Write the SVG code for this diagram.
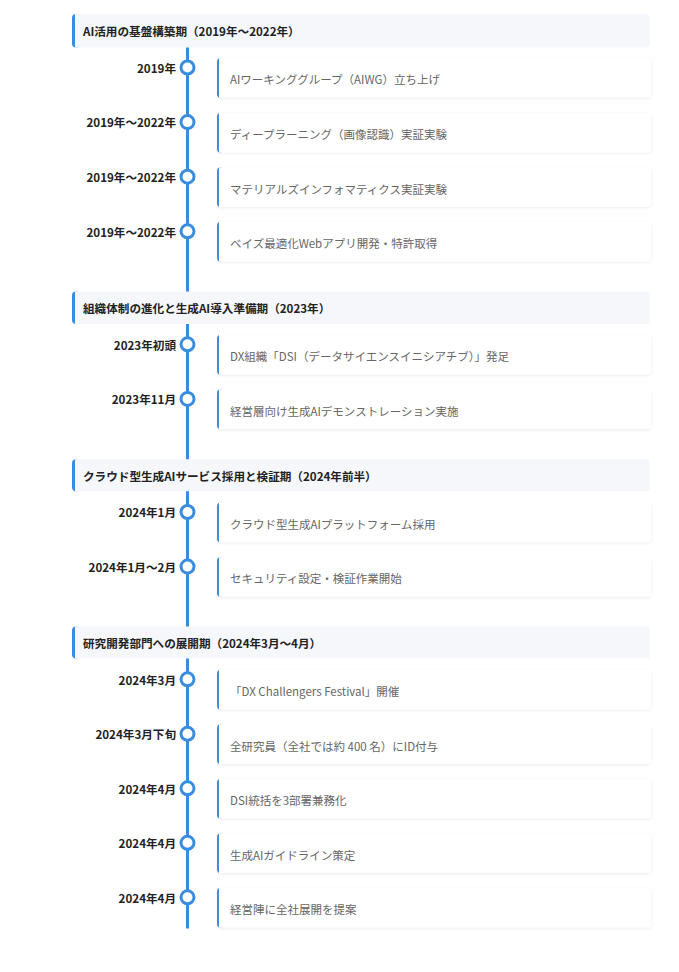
<svg xmlns="http://www.w3.org/2000/svg" width="679" height="972" viewBox="0 0 679 972">
<style>
  text { font-family: "Noto Sans CJK JP", "Noto Sans", sans-serif; }
  .hbg { fill: #f5f7fa; }
  .bar { fill: #3a8dde; }
  .htxt { font-size: 11.6px; font-weight: 700; fill: #222; dominant-baseline: central; }
  .date { font-size: 11.6px; font-weight: 700; fill: #222; text-anchor: end; dominant-baseline: central; }
  .card { fill: #ffffff; }
  .ctxt { font-size: 11.5px; fill: #666; dominant-baseline: central; }
  .dot { fill: #ffffff; stroke: #3a8dde; stroke-width: 3; }
  .line { stroke: #3a8dde; stroke-width: 3; fill: none; }
</style>
<defs>
  <filter id="sh" x="-5%" y="-30%" width="110%" height="170%">
    <feDropShadow dx="0" dy="1" stdDeviation="1.5" flood-color="#000" flood-opacity="0.08"/>
  </filter>
</defs>
<rect width="679" height="972" fill="#ffffff"/>

<g id="connectors">
  <line class="line" x1="187.5" y1="47" x2="187.5" y2="928.5"/>
</g>

<g id="header1">
  <rect class="bar" x="72" y="14" width="8" height="33.5" rx="4"/>
  <path class="hbg" d="M75,14 H646 a4,4 0 0 1 4,4 V43.5 a4,4 0 0 1 -4,4 H75 Z"/>
  <text class="htxt" x="83" y="30.8">AI活用の基盤構築期（2019年～2022年）</text>
</g>

<g id="e1">
  <text class="date" x="176" y="67.8">2019年</text>
  <circle class="dot" cx="187.5" cy="67.5" r="6.5"/>
  <g filter="url(#sh)">
    <rect class="bar" x="217" y="58.3" width="6" height="39.5" rx="4"/>
    <path class="card" d="M219,58.3 H647 a4,4 0 0 1 4,4 V93.8 a4,4 0 0 1 -4,4 H219 Z"/>
  </g>
  <text class="ctxt" x="230" y="79.3">AIワーキンググループ（AIWG）立ち上げ</text>
</g>

<g id="e2">
  <text class="date" x="176" y="122.4">2019年～2022年</text>
  <circle class="dot" cx="187.5" cy="122.1" r="6.5"/>
  <g filter="url(#sh)">
    <rect class="bar" x="217" y="112.9" width="6" height="39.5" rx="4"/>
    <path class="card" d="M219,112.9 H647 a4,4 0 0 1 4,4 V148.4 a4,4 0 0 1 -4,4 H219 Z"/>
  </g>
  <text class="ctxt" x="230" y="133.9">ディープラーニング（画像認識）実証実験</text>
</g>

<g id="e3">
  <text class="date" x="176" y="177">2019年～2022年</text>
  <circle class="dot" cx="187.5" cy="176.7" r="6.5"/>
  <g filter="url(#sh)">
    <rect class="bar" x="217" y="167.5" width="6" height="39.5" rx="4"/>
    <path class="card" d="M219,167.5 H647 a4,4 0 0 1 4,4 V203 a4,4 0 0 1 -4,4 H219 Z"/>
  </g>
  <text class="ctxt" x="230" y="188.5">マテリアルズインフォマティクス実証実験</text>
</g>

<g id="e4">
  <text class="date" x="176" y="231.6">2019年～2022年</text>
  <circle class="dot" cx="187.5" cy="231.3" r="6.5"/>
  <g filter="url(#sh)">
    <rect class="bar" x="217" y="222.1" width="6" height="39.5" rx="4"/>
    <path class="card" d="M219,222.1 H647 a4,4 0 0 1 4,4 V257.6 a4,4 0 0 1 -4,4 H219 Z"/>
  </g>
  <text class="ctxt" x="230" y="243.1">ベイズ最適化Webアプリ開発・特許取得</text>
</g>

<g id="header2">
  <rect class="bar" x="72" y="291.5" width="8" height="32.5" rx="4"/>
  <path class="hbg" d="M75,291.5 H646 a4,4 0 0 1 4,4 V320 a4,4 0 0 1 -4,4 H75 Z"/>
  <text class="htxt" x="83" y="307.8">組織体制の進化と生成AI導入準備期（2023年）</text>
</g>

<g id="e5">
  <text class="date" x="176" y="344.6">2023年初頭</text>
  <circle class="dot" cx="187.5" cy="344.3" r="6.5"/>
  <g filter="url(#sh)">
    <rect class="bar" x="217" y="335" width="6" height="39.5" rx="4"/>
    <path class="card" d="M219,335 H647 a4,4 0 0 1 4,4 V370.5 a4,4 0 0 1 -4,4 H219 Z"/>
  </g>
  <text class="ctxt" x="230" y="356">DX組織「DSI（データサイエンスイニシアチブ）」発足</text>
</g>

<g id="e6">
  <text class="date" x="176" y="399.2">2023年11月</text>
  <circle class="dot" cx="187.5" cy="398.9" r="6.5"/>
  <g filter="url(#sh)">
    <rect class="bar" x="217" y="389.6" width="6" height="39.5" rx="4"/>
    <path class="card" d="M219,389.6 H647 a4,4 0 0 1 4,4 V425.1 a4,4 0 0 1 -4,4 H219 Z"/>
  </g>
  <text class="ctxt" x="230" y="410.6">経営層向け生成AIデモンストレーション実施</text>
</g>

<g id="header3">
  <rect class="bar" x="72" y="459.3" width="8" height="32" rx="4"/>
  <path class="hbg" d="M75,459.3 H646 a4,4 0 0 1 4,4 V487.3 a4,4 0 0 1 -4,4 H75 Z"/>
  <text class="htxt" x="83" y="475.5">クラウド型生成AIサービス採用と検証期（2024年前半）</text>
</g>

<g id="e7">
  <text class="date" x="176" y="512.3">2024年1月</text>
  <circle class="dot" cx="187.5" cy="512" r="6.5"/>
  <g filter="url(#sh)">
    <rect class="bar" x="217" y="502.7" width="6" height="39.5" rx="4"/>
    <path class="card" d="M219,502.7 H647 a4,4 0 0 1 4,4 V538.2 a4,4 0 0 1 -4,4 H219 Z"/>
  </g>
  <text class="ctxt" x="230" y="523.7">クラウド型生成AIプラットフォーム採用</text>
</g>

<g id="e8">
  <text class="date" x="176" y="566.9">2024年1月～2月</text>
  <circle class="dot" cx="187.5" cy="566.6" r="6.5"/>
  <g filter="url(#sh)">
    <rect class="bar" x="217" y="557.3" width="6" height="39.5" rx="4"/>
    <path class="card" d="M219,557.3 H647 a4,4 0 0 1 4,4 V592.8 a4,4 0 0 1 -4,4 H219 Z"/>
  </g>
  <text class="ctxt" x="230" y="578.3">セキュリティ設定・検証作業開始</text>
</g>

<g id="header4">
  <rect class="bar" x="72" y="626.5" width="8" height="32" rx="4"/>
  <path class="hbg" d="M75,626.5 H646 a4,4 0 0 1 4,4 V654.5 a4,4 0 0 1 -4,4 H75 Z"/>
  <text class="htxt" x="83" y="642.7">研究開発部門への展開期（2024年3月～4月）</text>
</g>

<g id="e9">
  <text class="date" x="176" y="679.6">2024年3月</text>
  <circle class="dot" cx="187.5" cy="679.3" r="6.5"/>
  <g filter="url(#sh)">
    <rect class="bar" x="217" y="670" width="6" height="39.5" rx="4"/>
    <path class="card" d="M219,670 H647 a4,4 0 0 1 4,4 V705.5 a4,4 0 0 1 -4,4 H219 Z"/>
  </g>
  <text class="ctxt" x="230" y="691">「DX Challengers Festival」開催</text>
</g>

<g id="e10">
  <text class="date" x="176" y="734.1">2024年3月下旬</text>
  <circle class="dot" cx="187.5" cy="733.8" r="6.5"/>
  <g filter="url(#sh)">
    <rect class="bar" x="217" y="724.5" width="6" height="39.5" rx="4"/>
    <path class="card" d="M219,724.5 H647 a4,4 0 0 1 4,4 V760 a4,4 0 0 1 -4,4 H219 Z"/>
  </g>
  <text class="ctxt" x="230" y="745.5">全研究員（全社では約 400 名）にID付与</text>
</g>

<g id="e11">
  <text class="date" x="176" y="788.6">2024年4月</text>
  <circle class="dot" cx="187.5" cy="788.3" r="6.5"/>
  <g filter="url(#sh)">
    <rect class="bar" x="217" y="779" width="6" height="39.5" rx="4"/>
    <path class="card" d="M219,779 H647 a4,4 0 0 1 4,4 V814.5 a4,4 0 0 1 -4,4 H219 Z"/>
  </g>
  <text class="ctxt" x="230" y="800">DSI統括を3部署兼務化</text>
</g>

<g id="e12">
  <text class="date" x="176" y="843.1">2024年4月</text>
  <circle class="dot" cx="187.5" cy="842.8" r="6.5"/>
  <g filter="url(#sh)">
    <rect class="bar" x="217" y="833.5" width="6" height="39.5" rx="4"/>
    <path class="card" d="M219,833.5 H647 a4,4 0 0 1 4,4 V869 a4,4 0 0 1 -4,4 H219 Z"/>
  </g>
  <text class="ctxt" x="230" y="854.5">生成AIガイドライン策定</text>
</g>

<g id="e13">
  <text class="date" x="176" y="897.6">2024年4月</text>
  <circle class="dot" cx="187.5" cy="897.3" r="6.5"/>
  <g filter="url(#sh)">
    <rect class="bar" x="217" y="888" width="6" height="39.5" rx="4"/>
    <path class="card" d="M219,888 H647 a4,4 0 0 1 4,4 V923.5 a4,4 0 0 1 -4,4 H219 Z"/>
  </g>
  <text class="ctxt" x="230" y="909">経営陣に全社展開を提案</text>
</g>
</svg>
